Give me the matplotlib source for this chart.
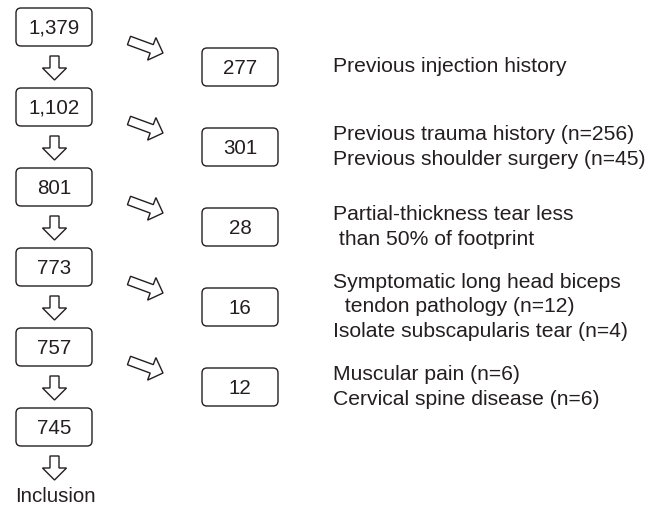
import matplotlib.pyplot as plt
from matplotlib.patches import FancyBboxPatch, FancyArrow

# Antall pasienter i hvert steg
steg = ['1,379', '1,102', '801', '773', '757', '745']
ekskludert = ['277', '301', '28', '16', '12']
grunner = [
    'Previous injection history',
    'Previous trauma history (n=256)\nPrevious shoulder surgery (n=45)',
    'Partial-thickness tear less\n than 50% of footprint',
    'Symptomatic long head biceps\n  tendon pathology (n=12)\nIsolate subscapularis tear (n=4)',
    'Muscular pain (n=6)\nCervical spine disease (n=6)',
]
slutt = 'Inclusion'

farge = '#231f20'
fs = 14.8
fs_tekst = 15.2
plt.rcParams['font.family'] = ['Liberation Sans', 'DejaVu Sans']

fig = plt.figure(figsize=(6.6, 5.14), dpi=100)
ax = fig.add_axes([0, 0, 1, 1])
ax.set_xlim(0, 660)
ax.set_ylim(514, 0)
ax.axis('off')


def boks(x, y, tekst):
    ax.add_patch(FancyBboxPatch((x + 5, y + 5), 66, 28,
                                boxstyle='round,pad=5',
                                fc='white', ec=farge, lw=1.0))
    ax.text(x + 38, y + 20, tekst, ha='center', va='center',
            fontsize=fs, color=farge)


def pil(x, y, dx, dy):
    ax.add_patch(FancyArrow(x, y, dx, dy, width=9, head_width=24,
                            head_length=12, length_includes_head=True,
                            fc='white', ec=farge, lw=1.0))


# Venstre kolonne
for i, n in enumerate(steg):
    top = 8 + 80 * i
    boks(16, top, n)
    pil(54.5, top + 48, 0, 24)

ax.text(55, 497, slutt, ha='center', va='center', fontsize=fs, color=farge)

# Ekskluderte
for i, (n, g) in enumerate(zip(ekskludert, grunner)):
    top = 48 + 80 * i
    boks(202, top, n)
    pil(129, top - 7.5, 34, 12.5)
    ax.text(333, top + 19, g, ha='left', va='center', fontsize=fs_tekst,
            color=farge, linespacing=1.36)

fig.savefig('out.png', dpi=100)
